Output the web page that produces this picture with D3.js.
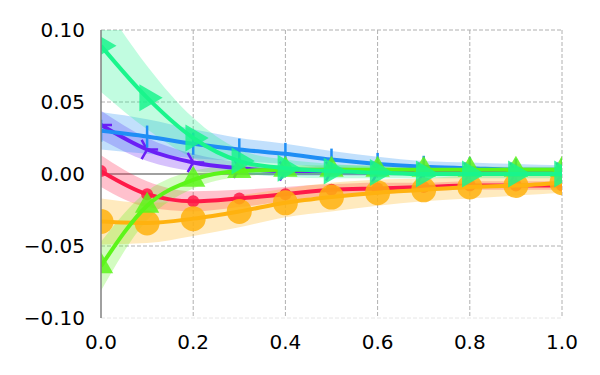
<!DOCTYPE html>
<html>
<head>
<meta charset="utf-8">
<script src="https://cdn.jsdelivr.net/npm/d3@7"></script>
<style>
  body { margin: 0; background: #fff; }
  svg { display: block; font-family: 'DejaVu Sans', sans-serif; }
</style>
</head>
<body>
<div id="container"></div>
<script>
'use strict';

const w = 600;
const h = 375;
const margin = {top: 30, right: 38, bottom: 57, left: 101};

// Data.
const xs = [0, 0.1, 0.2, 0.3, 0.4, 0.5, 0.6, 0.7, 0.8, 0.9, 1.0];
const yTicks = [-0.1, -0.05, 0, 0.05, 0.1];
const xTicks = [0, 0.2, 0.4, 0.6, 0.8, 1.0];

const purpleY = [0.034, 0.017, 0.008, 0.004, 0.002, 0.002, 0.001, 0.001, 0.001, 0.001, 0.001];
const purpleErr = [0.010, 0.008, 0.006, 0.004, 0.003, 0.003, 0.002, 0.002, 0.002, 0.002, 0.002];
const blueY = [0.030, 0.026, 0.021, 0.017, 0.014, 0.010, 0.007, 0.005, 0.004, 0.003, 0.003];
const blueErr = [0.013, 0.012, 0.010, 0.008, 0.007, 0.006, 0.005, 0.004, 0.004, 0.004, 0.003];
const redY = [0.002, -0.014, -0.019, -0.017, -0.014, -0.011, -0.010, -0.009, -0.008, -0.008, -0.008];
const redErr = [0.011, 0.009, 0.007, 0.006, 0.005, 0.004, 0.004, 0.003, 0.003, 0.003, 0.003];
const orangeY = [-0.033, -0.034, -0.031, -0.026, -0.020, -0.016, -0.013, -0.011, -0.009, -0.008, -0.006];
const orangeErr = [0.016, 0.014, 0.012, 0.011, 0.010, 0.010, 0.009, 0.008, 0.008, 0.007, 0.007];
const limeY = [-0.064, -0.022, -0.004, 0.002, 0.003, 0.003, 0.003, 0.003, 0.003, 0.003, 0.003];
const limeErr = [0.017, 0.010, 0.006, 0.004, 0.003, 0.003, 0.003, 0.002, 0.002, 0.002, 0.002];
const springY = [0.089, 0.053, 0.025, 0.009, 0.004, 0.002, 0.001, 0.000, 0.000, 0.000, 0.000];
const springErr = [0.032, 0.022, 0.014, 0.008, 0.006, 0.005, 0.004, 0.003, 0.003, 0.003, 0.003];

const series = [
    {name: 'purple', ys: purpleY, err: purpleErr, color: '#6a1ff5', marker: 'tri_right', size: 11},
    {name: 'blue', ys: blueY, err: blueErr, color: '#1f8ef5', marker: 'vline', size: 11},
    {name: 'red', ys: redY, err: redErr, color: '#ff1a48', marker: 'circle', size: 6},
    {name: 'orange', ys: orangeY, err: orangeErr, color: '#ffb20f', marker: 'circle', size: 12.5},
    {name: 'lime', ys: limeY, err: limeErr, color: '#5cf51a', marker: 'tri_up', size: 14},
    {name: 'spring', ys: springY, err: springErr, color: '#1af58c', marker: 'tri_right_fill', size: 15.5}
];

const svg = d3.select('#container')
    .append('svg')
    .attr('width', w)
    .attr('height', h);

const xScale = d3.scaleLinear()
    .domain([0, 1])
    .range([margin.left, w - margin.right]);
const yScale = d3.scaleLinear()
    .domain([-0.1, 0.1])
    .range([h - margin.bottom, margin.top]);

svg.append('clipPath')
    .attr('id', 'plot-clip')
    .append('rect')
    .attr('x', margin.left)
    .attr('y', margin.top)
    .attr('width', w - margin.left - margin.right)
    .attr('height', h - margin.top - margin.bottom);

// Grid.
const grid = svg.append('g');
grid.selectAll('line.gx')
    .data(xTicks.filter(t => t > 0))
    .enter()
    .append('line')
    .attr('x1', d => xScale(d))
    .attr('x2', d => xScale(d))
    .attr('y1', margin.top)
    .attr('y2', h - margin.bottom)
    .attr('stroke', '#b0b0b0')
    .attr('stroke-width', 1)
    .attr('stroke-dasharray', '4,2');
grid.selectAll('line.gy')
    .data(yTicks.filter(t => t !== 0))
    .enter()
    .append('line')
    .attr('x1', margin.left)
    .attr('x2', w - margin.right)
    .attr('y1', d => yScale(d))
    .attr('y2', d => yScale(d))
    .attr('stroke', d => d === -0.1 ? '#e6e6e6' : '#b0b0b0')
    .attr('stroke-width', 1)
    .attr('stroke-dasharray', '4,2');

// Zero line.
svg.append('line')
    .attr('x1', margin.left)
    .attr('x2', w - margin.right)
    .attr('y1', yScale(0))
    .attr('y2', yScale(0))
    .attr('stroke', '#808080')
    .attr('stroke-width', 1.5);

const plot = svg.append('g').attr('clip-path', 'url(#plot-clip)');

const curve = d3.curveMonotoneX;

// Bands first.
series.forEach(s => {
    const pts = xs.map((x, i) => ({x: x, y: s.ys[i], e: s.err[i]}));
    const area = d3.area()
        .x(d => xScale(d.x))
        .y0(d => yScale(d.y - d.e))
        .y1(d => yScale(d.y + d.e))
        .curve(curve);
    plot.append('path')
        .datum(pts)
        .attr('d', area)
        .attr('fill', s.color)
        .attr('fill-opacity', 0.27);
});

function markerPath(type, r) {
    if (type === 'tri_up') {
        return 'M0,' + (-r) + 'L' + (r * 0.87) + ',' + (r * 0.5) + 'L' + (-r * 0.87) + ',' + (r * 0.5) + 'Z';
    }
    if (type === 'tri_right_fill') {
        return 'M' + r + ',0L' + (-r * 0.5) + ',' + (-r * 0.87) + 'L' + (-r * 0.5) + ',' + (r * 0.87) + 'Z';
    }
    if (type === 'tri_right') {
        return 'M0,0L' + r + ',0M0,0L' + (-r * 0.5) + ',' + (-r * 0.87) + 'M0,0L' + (-r * 0.5) + ',' + (r * 0.87);
    }
    if (type === 'vline') {
        return 'M0,' + (-r) + 'L0,' + r;
    }
    return '';
}

// Lines and markers.
series.forEach(s => {
    const pts = xs.map((x, i) => ({x: x, y: s.ys[i]}));
    const line = d3.line()
        .x(d => xScale(d.x))
        .y(d => yScale(d.y))
        .curve(curve);
    plot.append('path')
        .datum(pts)
        .attr('d', line)
        .attr('fill', 'none')
        .attr('stroke', s.color)
        .attr('stroke-width', 4);

    const g = plot.append('g');
    if (s.marker === 'circle') {
        g.selectAll('circle')
            .data(pts)
            .enter()
            .append('circle')
            .attr('cx', d => xScale(d.x))
            .attr('cy', d => yScale(d.y))
            .attr('r', s.size)
            .attr('fill', s.color)
            .attr('fill-opacity', 0.85);
    } else {
        const filled = s.marker === 'tri_up' || s.marker === 'tri_right_fill';
        g.selectAll('path')
            .data(pts)
            .enter()
            .append('path')
            .attr('transform', d => 'translate(' + xScale(d.x) + ',' + yScale(d.y) + ')')
            .attr('d', markerPath(s.marker, s.size))
            .attr('fill', filled ? s.color : 'none')
            .attr('fill-opacity', 0.85)
            .attr('stroke', filled ? 'none' : s.color)
            .attr('stroke-width', 2.5);
    }
});

// Left spine.
svg.append('line')
    .attr('x1', margin.left)
    .attr('x2', margin.left)
    .attr('y1', margin.top)
    .attr('y2', h - margin.bottom)
    .attr('stroke', '#808080')
    .attr('stroke-width', 1.5);

// Tick labels.
const fmtY = d3.format('.2f');
svg.append('g')
    .selectAll('text')
    .data(yTicks)
    .enter()
    .append('text')
    .attr('x', margin.left - 16)
    .attr('y', d => yScale(d))
    .attr('dy', '0.36em')
    .attr('text-anchor', 'end')
    .attr('font-size', 20)
    .attr('fill', '#000')
    .text(d => fmtY(d).replace('-', '\u2212'));

svg.append('g')
    .selectAll('text')
    .data(xTicks)
    .enter()
    .append('text')
    .attr('x', d => xScale(d))
    .attr('y', h - margin.bottom + 31)
    .attr('text-anchor', 'middle')
    .attr('font-size', 20)
    .attr('fill', '#000')
    .text(d => d3.format('.1f')(d));
</script>
</body>
</html>
